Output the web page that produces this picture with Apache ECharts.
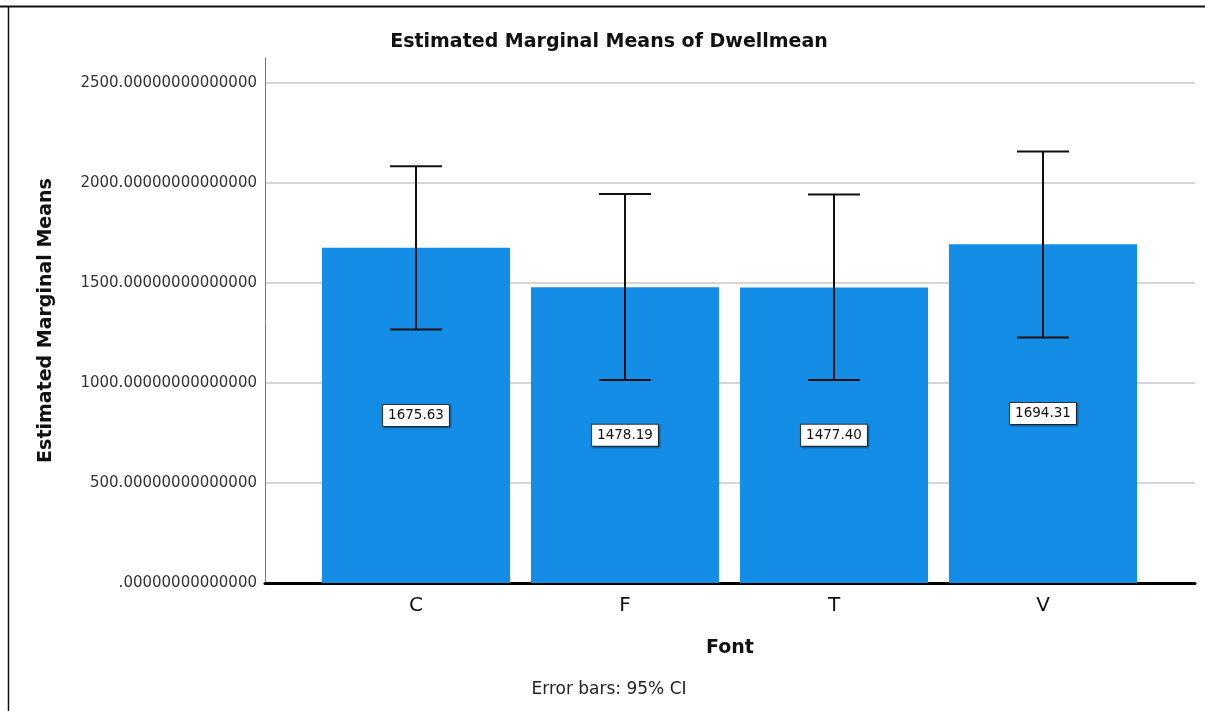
<!DOCTYPE html>
<html>
<head>
<meta charset="utf-8">
<script src="https://cdn.jsdelivr.net/npm/echarts@6/dist/echarts.min.js"></script>
<style>
html,body{margin:0;padding:0;background:#fff;}
#main{width:1205px;height:711px;}
</style>
</head>
<body>
<div id="main"></div>
<script>
// ---- data ----
const categories = ['C', 'F', 'T', 'V'];
const means = [1675.63, 1478.19, 1477.40, 1694.31];
const ciLower = [1268, 1015, 1015, 1228];
const ciUpper = [2084, 1945, 1942, 2158];
const yTicks = [0, 500, 1000, 1500, 2000, 2500];

const FONT = 'DejaVu Sans';
const yMax = yTicks[yTicks.length - 1];
const yStep = yTicks[1] - yTicks[0];

function fmtTick(v) {
  const s = v === 0 ? '' : String(v);
  return s + '.' + '0'.repeat(14);
}

const chart = echarts.init(document.getElementById('main'));
chart.setOption({
  backgroundColor: '#fff',
  animation: false,
  title: {
    text: 'Estimated Marginal Means of Dwellmean',
    left: 604, top: 28, textAlign: 'center',
    textStyle: { fontFamily: FONT, fontSize: 19, fontWeight: 'bold', color: '#111' }
  },
  graphic: [
    { type: 'line', shape: { x1: 0, y1: 6.5, x2: 1205, y2: 6.5 }, style: { stroke: '#111', lineWidth: 2 } },
    { type: 'line', shape: { x1: 8.5, y1: 6, x2: 8.5, y2: 711 }, style: { stroke: '#111', lineWidth: 1.5 } },
    { type: 'text', x: 609, y: 690, style: { text: 'Error bars: 95% CI', fontFamily: FONT, fontSize: 17, fill: '#222', textAlign: 'center', textVerticalAlign: 'middle' } }
  ],
  grid: [
    { left: 265, right: 10, top: 83, bottom: 128 },      // gridlines, tick labels, x axis line
    { left: 311.5, right: 57.5, top: 83, bottom: 128 },  // bars
    { left: 265, right: 10, top: 58, bottom: 128 }       // y axis line and title
  ],
  xAxis: [
    { gridIndex: 0, type: 'value', min: 0, max: 1, show: true,
      axisLine: { show: true, onZero: false, lineStyle: { color: '#000', width: 3 } },
      axisTick: { show: false }, axisLabel: { show: false }, splitLine: { show: false },
      name: 'Font', nameLocation: 'middle', nameGap: 56,
      nameTextStyle: { fontFamily: FONT, fontSize: 19, fontWeight: 'bold', color: '#111' } },
    { gridIndex: 1, type: 'category', data: categories,
      axisLine: { show: false }, axisTick: { show: false },
      axisLabel: { fontFamily: FONT, fontSize: 20, color: '#111', margin: 13 } },
    { gridIndex: 2, type: 'value', show: false, min: 0, max: 1 }
  ],
  yAxis: [
    { gridIndex: 0, type: 'value', min: 0, max: yMax, interval: yStep,
      axisLine: { show: false }, axisTick: { show: false },
      axisLabel: { fontFamily: FONT, fontSize: 15, color: '#333', margin: 8, formatter: fmtTick },
      splitLine: { show: true, lineStyle: { color: '#c8c8c8', width: 1.5 } } },
    { gridIndex: 1, type: 'value', min: 0, max: yMax, show: false },
    { gridIndex: 2, type: 'value', min: 0, max: 1, show: true,
      axisLine: { show: true, lineStyle: { color: '#777', width: 1 } },
      axisTick: { show: false }, axisLabel: { show: false }, splitLine: { show: false },
      name: 'Estimated Marginal Means', nameLocation: 'middle', nameGap: 209, nameRotate: 90,
      nameTextStyle: { fontFamily: FONT, fontSize: 19, fontWeight: 'bold', color: '#111' } }
  ],
  series: [
    {
      type: 'bar', xAxisIndex: 1, yAxisIndex: 1, data: means, barWidth: '90%',
      itemStyle: { color: '#138de5' },
      label: {
        show: true, position: 'inside',
        formatter: p => p.value.toFixed(2),
        fontFamily: FONT, fontSize: 13.5, color: '#111',
        backgroundColor: '#fff', borderColor: '#333', borderWidth: 1,
        padding: [4, 5, 3, 5],
        shadowColor: 'rgba(0,0,0,0.35)', shadowBlur: 2, shadowOffsetX: 1, shadowOffsetY: 1
      },
      z: 2
    },
    {
      type: 'custom', xAxisIndex: 1, yAxisIndex: 1,
      data: categories.map((c, i) => [i, ciLower[i], ciUpper[i]]),
      renderItem: function (params, api) {
        const x = api.coord([api.value(0), 0])[0];
        const lo = api.coord([api.value(0), api.value(1)])[1];
        const hi = api.coord([api.value(0), api.value(2)])[1];
        const hw = 26;
        const st = { stroke: '#111', lineWidth: 2 };
        return { type: 'group', children: [
          { type: 'line', shape: { x1: x, y1: hi, x2: x, y2: lo }, style: st },
          { type: 'line', shape: { x1: x - hw, y1: hi, x2: x + hw, y2: hi }, style: st },
          { type: 'line', shape: { x1: x - hw, y1: lo, x2: x + hw, y2: lo }, style: st }
        ]};
      },
      z: 3
    }
  ]
});
</script>
</body>
</html>
